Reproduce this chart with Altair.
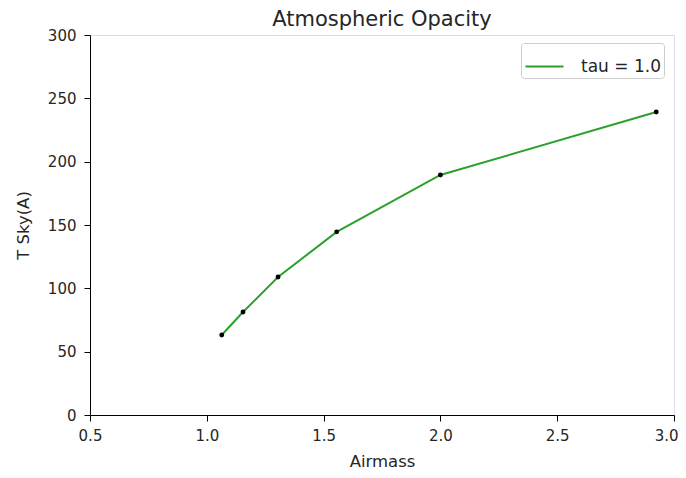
import altair as alt
import pandas as pd

airmass = [1.064, 1.155, 1.305, 1.556, 2.0, 2.924]
tsky = [63.2, 81.3, 108.9, 144.6, 189.5, 239.2]
series_name = ["tau = 1.0"] * len(airmass)

x_ticks = [0.5, 1.0, 1.5, 2.0, 2.5, 3.0]
y_ticks = [0, 50, 100, 150, 200, 250, 300]

df = pd.DataFrame({"Airmass": airmass, "T Sky(A)": tsky, "series": series_name})

font = "DejaVu Sans"
ink = "#262626"

common_axis = dict(
    grid=False, domainColor="black", tickColor="black", labelColor=ink,
    titleColor=ink, labelFontSize=15, titleFontSize=16.5,
    titleFontWeight="normal", labelFont=font, titleFont=font,
    tickSize=6, labelFlush=False, labelOverlap=False,
)

x_enc = alt.X(
    "Airmass:Q",
    scale=alt.Scale(domain=[0.5, 3.0], nice=False, zero=False),
    axis=alt.Axis(
        values=x_ticks, format=".1f", title="Airmass",
        labelPadding=7, titlePadding=10,
        labelAlign={"condition": {"test": "datum.value >= 2.9", "value": "right"}, "value": "center"},
        labelOffset={"condition": {"test": "datum.value >= 2.9", "value": 4}, "value": 0},
        **common_axis,
    ),
)
y_enc = alt.Y(
    "T Sky(A):Q",
    scale=alt.Scale(domain=[0, 300], nice=False),
    axis=alt.Axis(values=y_ticks, title="T Sky(A)", labelPadding=8,
                  titlePadding=16, **common_axis),
)

line = alt.Chart(df).mark_line(strokeWidth=2).encode(
    x=x_enc,
    y=y_enc,
    color=alt.Color(
        "series:N",
        scale=alt.Scale(range=["#2ca02c"]),
        legend=alt.Legend(
            title=None, orient="none", legendX=431, legendY=8,
            symbolType="stroke", symbolStrokeWidth=2.2, symbolSize=1444,
            labelFontSize=17, labelFont=font, labelColor=ink,
            strokeColor="#cccccc", fillColor="white", padding=3,
            cornerRadius=3, labelOffset=16,
        ),
    ),
)

pts = alt.Chart(df).mark_point(filled=True, color="black", size=24, opacity=1).encode(
    x="Airmass:Q", y="T Sky(A):Q"
)

chart = (
    (line + pts)
    .properties(
        width=584,
        height=380,
        title=alt.Title("Atmospheric Opacity", fontSize=21, fontWeight="normal",
                        font=font, color=ink, offset=6, dy=8, frame="group"),
        autosize=alt.AutoSizeParams(type="none"),
        padding={"left": 82, "top": 27, "right": 4, "bottom": 55},
    )
    .configure_view(stroke="black", strokeWidth=1)
    .configure(background="white")
)

chart.save("out.html", embed_options={"renderer": "svg", "actions": False})
